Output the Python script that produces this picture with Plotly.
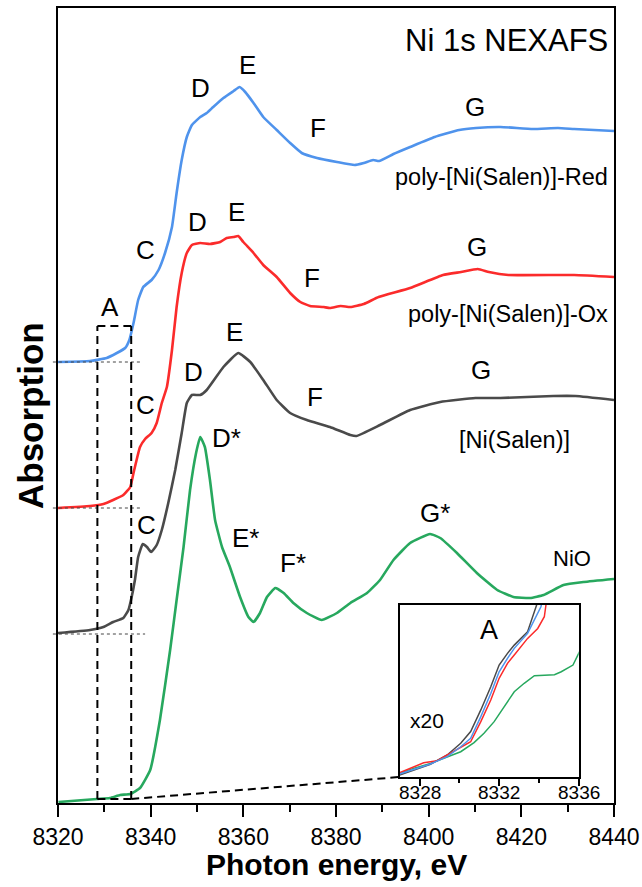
import plotly.graph_objects as go

# ---------------- data (photon energy, eV / absorption, a.u. offset) ----------------
blue_x = [8320.0, 8326.9, 8330.5, 8332.7, 8334.5, 8335.4, 8336.3, 8337.3, 8338.4, 8340.2,
          8341.7, 8343.1, 8344.6, 8345.6, 8346.7, 8347.8, 8348.9, 8350.7, 8352.1, 8353.5,
          8355.7, 8357.9, 8359.2, 8360.4, 8362.2, 8364.3, 8367.2, 8370.1, 8372.6, 8375.9,
          8380.2, 8384.0, 8386.0, 8388.0, 8389.3, 8392.4, 8396.0, 8401.3, 8406.6, 8410.2,
          8415.5, 8422.5, 8427.9, 8431.4, 8440.0]
blue_y = [4.41, 4.42, 4.45, 4.50, 4.55, 4.63, 4.80, 5.03, 5.16, 5.23,
          5.33, 5.50, 5.76, 6.10, 6.43, 6.66, 6.78, 6.86, 6.90, 6.96,
          7.05, 7.12, 7.16, 7.11, 7.00, 6.86, 6.73, 6.60, 6.50, 6.45,
          6.41, 6.38, 6.40, 6.43, 6.42, 6.49, 6.56, 6.66, 6.73, 6.75,
          6.76, 6.74, 6.75, 6.74, 6.72]

red_x = [8320.0, 8326.9, 8329.8, 8331.9, 8334.1, 8335.6, 8336.3, 8337.7, 8338.8, 8340.2,
         8341.3, 8342.4, 8343.5, 8344.6, 8345.6, 8346.7, 8347.8, 8348.9, 8350.7, 8352.8,
         8355.0, 8356.4, 8357.9, 8358.9, 8360.0, 8362.2, 8364.3, 8367.2, 8370.1, 8372.3,
         8374.4, 8377.3, 8378.7, 8381.0, 8383.1, 8386.0, 8389.2, 8396.0, 8403.1, 8407.0,
         8410.6, 8413.0, 8417.2, 8431.4, 8440.0]
red_y = [2.95, 2.97, 2.99, 3.03, 3.08, 3.16, 3.30, 3.56, 3.64, 3.70,
         3.80, 4.00, 4.16, 4.53, 4.96, 5.30, 5.50, 5.58, 5.60, 5.59,
         5.61, 5.65, 5.66, 5.67, 5.61, 5.50, 5.38, 5.26, 5.10, 5.01,
         4.97, 4.96, 4.95, 4.97, 4.96, 4.99, 5.06, 5.15, 5.28, 5.31,
         5.34, 5.31, 5.28, 5.28, 5.26]

black_x = [8320.0, 8326.9, 8329.8, 8331.9, 8334.1, 8335.2, 8335.9, 8336.6, 8337.3, 8338.3,
           8339.2, 8340.1, 8341.3, 8342.4, 8343.8, 8345.3, 8346.7, 8347.8, 8348.9, 8350.7,
           8352.1, 8355.7, 8358.9, 8361.5, 8364.3, 8367.2, 8370.1, 8373.7, 8378.7, 8383.1,
           8384.4, 8389.5, 8396.0, 8402.5, 8410.1, 8415.5, 8426.9, 8431.7, 8440.0]
black_y = [1.70, 1.73, 1.76, 1.81, 1.85, 1.93, 2.06, 2.23, 2.46, 2.59,
           2.56, 2.51, 2.58, 2.73, 3.00, 3.33, 3.70, 4.00, 4.08, 4.08,
           4.13, 4.36, 4.50, 4.41, 4.23, 4.03, 3.90, 3.83, 3.76, 3.68,
           3.67, 3.78, 3.93, 4.01, 4.05, 4.05, 4.07, 4.07, 4.03]

green_x = [8320.1, 8328.4, 8331.2, 8333.4, 8335.6, 8337.7, 8339.9, 8342.0, 8344.2, 8345.6,
           8347.1, 8348.5, 8349.8, 8350.7, 8351.7, 8352.8, 8353.9, 8355.4, 8357.1, 8359.3,
           8361.1, 8362.2, 8363.6, 8365.1, 8366.9, 8368.7, 8370.8, 8373.7, 8376.9, 8380.2,
           8383.1, 8386.7, 8389.5, 8392.4, 8396.0, 8400.3, 8402.5, 8406.1, 8410.4, 8414.8,
           8418.3, 8421.9, 8424.8, 8429.1, 8433.5, 8440.0]
green_y = [0.01, 0.04, 0.05, 0.08, 0.09, 0.15, 0.33, 0.83, 1.53, 2.03,
           2.56, 3.13, 3.50, 3.66, 3.56, 3.23, 2.83, 2.56, 2.36, 2.06,
           1.86, 1.81, 1.90, 2.06, 2.15, 2.10, 2.00, 1.90, 1.83, 1.90,
           2.00, 2.10, 2.23, 2.43, 2.60, 2.69, 2.65, 2.50, 2.30, 2.13,
           2.06, 2.05, 2.08, 2.18, 2.21, 2.24]

# inset (pre-edge region A, x20)
ins_black_x = [8327.0, 8327.7, 8328.55, 8329.39, 8330.07, 8330.57, 8331.08, 8331.58, 8332.0, 8332.42, 8332.76, 8333.43, 8333.85, 8334.0]
ins_black_y = [1.2, 4.1, 7.4, 12.8, 19.6, 26.4, 39.0, 52.5, 65.1, 71.9, 76.7, 84.5, 99.0, 104]
ins_blue_x = [8327.0, 8327.7, 8328.55, 8329.39, 8330.07, 8330.57, 8331.08, 8331.58, 8332.0, 8332.42, 8332.76, 8333.43, 8334.1, 8334.2]
ins_blue_y = [1.7, 4.5, 7.6, 11.8, 17.6, 22.5, 35.1, 48.6, 61.2, 69.0, 74.8, 83.5, 99.0, 104]
ins_red_x = [8327.0, 8327.7, 8328.21, 8328.89, 8329.56, 8330.15, 8330.57, 8331.08, 8331.58, 8332.0, 8332.42, 8332.76, 8333.43, 8333.94, 8334.27, 8334.4]
ins_red_y = [2.5, 6.0, 8.3, 9.5, 13.8, 17.6, 20.5, 32.2, 44.8, 57.4, 66.1, 70.9, 80.6, 86.4, 93.2, 104]
ins_green_x = [8327.0, 8327.7, 8328.55, 8329.39, 8330.07, 8330.74, 8331.24, 8331.75, 8332.25, 8332.76, 8333.26, 8333.77, 8334.78, 8335.12, 8335.71, 8335.87, 8336.04]
ins_green_y = [2.1, 5.0, 7.9, 11.8, 14.7, 20.0, 25.4, 32.2, 40.9, 49.6, 54.5, 58.9, 59.5, 61.2, 65.1, 69.0, 72.9]

x_ticks = [8320, 8340, 8360, 8380, 8400, 8420, 8440]
inset_ticks = [8328, 8332, 8336]

# peak labels: (text, x eV, y a.u.)
peak_labels = [
    ("C", 8338.8, 5.53), ("D", 8350.7, 7.15), ("E", 8360.8, 7.38), ("F", 8376.2, 6.75), ("G", 8410.1, 6.96),
    ("A", 8331.2, 4.96), ("C", 8338.8, 3.98), ("D", 8350.0, 5.81), ("E", 8358.6, 5.91), ("F", 8374.8, 5.25), ("G", 8410.4, 5.56),
    ("C", 8339.2, 2.78), ("D", 8349.2, 4.31), ("E", 8358.2, 4.71), ("F", 8375.5, 4.06), ("G", 8411.4, 4.33),
    ("D*", 8356.4, 3.65), ("E*", 8360.4, 2.65), ("F*", 8370.8, 2.40), ("G*", 8401.4, 2.90),
]

# baselines (dotted): (y, x_start, x_end)
baselines = [(4.41, 8318.9, 8338.1), (2.95, 8318.9, 8337.7), (1.69, 8318.9, 8338.8)]

# region A box
box_x0, box_x1, box_y0, box_y1 = 8328.5, 8335.8, 0.04, 4.77

# ---------------- layout geometry ----------------
W, H = 642, 887
ML, MR, MT, MB = 58, 28, 8, 84
XR = [8320, 8440]
YR = [0, 7.95]
ins_xdom = [0.6144, 0.9366]
ins_ydom = [0.0327, 0.249]
INS_XR = [8327, 8336]
INS_YR = [0, 100]
PH = H - MT - MB
PW = W - ML - MR

FONT = "Liberation Sans, Arial, sans-serif"
C_BLUE = "#4f93ec"
C_RED = "#fb2b2b"
C_BLACK = "#4a4a4a"
C_GREEN = "#27a85e"

fig = go.Figure()
for xs, ys, c in [(green_x, green_y, C_GREEN), (black_x, black_y, C_BLACK),
                  (red_x, red_y, C_RED), (blue_x, blue_y, C_BLUE)]:
    fig.add_trace(go.Scatter(x=xs, y=ys, mode="lines", line=dict(color=c, width=2.6, shape="spline", smoothing=0.4),
                             showlegend=False, hoverinfo="skip"))

for xs, ys, c in [(ins_green_x, ins_green_y, C_GREEN), (ins_black_x, ins_black_y, C_BLACK),
                  (ins_red_x, ins_red_y, C_RED), (ins_blue_x, ins_blue_y, C_BLUE)]:
    fig.add_trace(go.Scatter(x=xs, y=ys, mode="lines", line=dict(color=c, width=1.5),
                             xaxis="x2", yaxis="y2", showlegend=False, hoverinfo="skip"))

axis_common = dict(showgrid=False, zeroline=False, linecolor="black", linewidth=2, automargin=False)
fig.update_layout(
    width=W, height=H, margin=dict(l=ML, r=MR, t=MT, b=MB, autoexpand=False),
    paper_bgcolor="white", plot_bgcolor="white",
    font=dict(family=FONT, color="black"),
    xaxis=dict(range=XR, tickvals=x_ticks, ticks="outside", ticklen=12, tickwidth=2, tickcolor="black",
               minor=dict(dtick=10, tick0=8320, ticks="outside", ticklen=7, tickwidth=2, tickcolor="black"),
               tickfont=dict(size=23, family=FONT), showline=True, mirror=True, **axis_common),
    yaxis=dict(range=YR, showticklabels=False, ticks="", showline=True, mirror=True, **axis_common),
    xaxis2=dict(domain=ins_xdom, anchor="y2", range=INS_XR, tickvals=inset_ticks, ticks="outside",
                ticklen=7, tickwidth=1.5, tickcolor="black", showticklabels=False, automargin=False,
                minor=dict(dtick=2, tick0=8328, ticks="outside", ticklen=4, tickwidth=1.5, tickcolor="black"),
                showline=True, mirror=True,
                showgrid=False, zeroline=False, linecolor="black", linewidth=1.5),
    yaxis2=dict(domain=ins_ydom, anchor="x2", range=INS_YR, showticklabels=False, ticks="", automargin=False,
                showline=True, mirror=True, showgrid=False, zeroline=False, linecolor="black", linewidth=1.5),
)

shapes = []
for y, xa, xb in baselines:
    shapes.append(dict(type="line", xref="paper", yref="y",
                       x0=(xa - XR[0]) / (XR[1] - XR[0]), x1=(xb - XR[0]) / (XR[1] - XR[0]),
                       y0=y, y1=y, line=dict(color="#444", width=1, dash="3px,3px")))
dash_box = dict(color="black", width=2, dash="8px,5px")
shapes += [
    dict(type="line", xref="x", yref="y", x0=box_x0, x1=box_x0, y0=box_y0, y1=box_y1, line=dash_box),
    dict(type="line", xref="x", yref="y", x0=box_x1, x1=box_x1, y0=box_y0, y1=box_y1, line=dash_box),
    dict(type="line", xref="x", yref="y", x0=box_x0, x1=box_x1, y0=box_y1, y1=box_y1, line=dash_box),
    dict(type="line", xref="x", yref="y", x0=box_x0, x1=box_x1, y0=box_y0, y1=box_y0, line=dash_box),
]
# connecting line from box to inset corner
ins_corner_x = XR[0] + ins_xdom[0] * (XR[1] - XR[0])
ins_corner_y = YR[0] + ins_ydom[0] * (YR[1] - YR[0])
shapes.append(dict(type="line", xref="x", yref="y", x0=box_x1, y0=box_y0, x1=ins_corner_x, y1=ins_corner_y,
                   line=dash_box))
fig.update_layout(shapes=shapes)

ann = []
for t, x, y in peak_labels:
    ann.append(dict(text=t, x=x, y=y, xref="x", yref="y", showarrow=False, font=dict(size=26)))
for tv in inset_ticks:
    ann.append(dict(text=str(tv), x=tv, y=(H - MB - 792) / PH, xref="x2", yref="paper",
                    xanchor="center", yanchor="middle", showarrow=False, font=dict(size=19)))
ann += [
    dict(text="Ni 1s NEXAFS", x=1, xshift=-4, y=(H - MB - 41) / PH, xref="paper", yref="paper",
         xanchor="right", yanchor="middle", showarrow=False, font=dict(size=31)),
    dict(text="poly-[Ni(Salen)]-Red", x=1, xshift=-4, y=(H - MB - 177) / PH, xref="paper", yref="paper",
         xanchor="right", yanchor="middle", showarrow=False, font=dict(size=23.5)),
    dict(text="poly-[Ni(Salen)]-Ox", x=1, xshift=-4, y=(H - MB - 314) / PH, xref="paper", yref="paper",
         xanchor="right", yanchor="middle", showarrow=False, font=dict(size=23.5)),
    dict(text="[Ni(Salen)]", x=8418.5, y=3.63, xref="x", yref="y", showarrow=False, font=dict(size=23.5)),
    dict(text="NiO", x=8431.0, y=2.45, xref="x", yref="y", showarrow=False, font=dict(size=22)),
    dict(text="A", x=8331.5, y=85.5, xref="x2", yref="y2", showarrow=False, font=dict(size=27)),
    dict(text="x20", x=8328.4, y=33.1, xref="x2", yref="y2", showarrow=False, font=dict(size=21)),
    dict(text="<b>Photon energy, eV</b>", x=0.5, y=(H - MB - 864) / PH, xref="paper", yref="paper",
         xanchor="center", yanchor="middle", showarrow=False, font=dict(size=30)),
    dict(text="<b>Absorption</b>", x=(30 - ML) / PW, y=(H - MB - 416) / PH, xref="paper",
         yref="paper", xanchor="center", yanchor="middle", textangle=-90, showarrow=False, font=dict(size=35)),
]
fig.update_layout(annotations=ann)

fig.write_html("out.html")
